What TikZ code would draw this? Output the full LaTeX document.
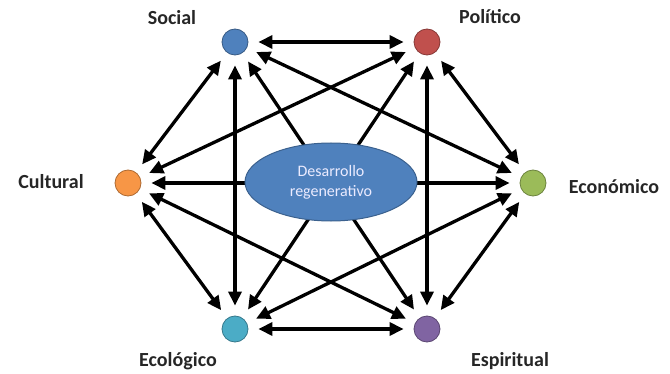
\documentclass[tikz,border=0pt]{standalone}
\usepackage{fontspec}
\setmainfont{Carlito}
\usetikzlibrary{arrows.meta,shapes.geometric}
\definecolor{socialc}{HTML}{4F81BD}
\definecolor{politicoc}{HTML}{C0504D}
\definecolor{culturalc}{HTML}{F79646}
\definecolor{economicoc}{HTML}{9BBB59}
\definecolor{ecologicoc}{HTML}{4BACC6}
\definecolor{espiritualc}{HTML}{8064A2}

\begin{document}
\begin{tikzpicture}[x=1pt,y=1pt,
   dim/.style={circle,draw=#1!70!black,fill=#1,line width=0.8pt,minimum size=26pt,inner sep=0pt},
   dimlabel/.style={font=\bfseries\fontsize{20}{22}\selectfont,text=black!85},
   link/.style={{Triangle[length=14pt,width=13pt]}-{Triangle[length=14pt,width=13pt]},
      line width=3.3pt,shorten <=10pt,shorten >=10pt}]
\useasboundingbox (0,0) rectangle (670,373);
% dimensiones
\node[dim=socialc] (soc) at (235,331) {};
\node[dim=politicoc] (pol) at (427,331) {};
\node[dim=culturalc] (cul) at (128,190) {};
\node[dim=economicoc] (eco) at (533,190) {};
\node[dim=ecologicoc] (ecl) at (235,44) {};
\node[dim=espiritualc] (esp) at (427,44) {};
\node[dimlabel] (socl) at (172,355) {Social};
\node[dimlabel] (poll) at (490,356) {Político};
\node[dimlabel] (cull) at (51,191) {Cultural};
\node[dimlabel] (ecol) at (614,186) {Económico};
\node[dimlabel] (ecll) at (178,12) {Ecológico};
\node[dimlabel] (espl) at (510,12) {Espiritual};
% relaciones
\foreach \a/\b in {soc/pol,soc/cul,soc/eco,soc/ecl,soc/esp,
                   pol/cul,pol/eco,pol/ecl,pol/esp,
                   cul/eco,cul/ecl,cul/esp,
                   eco/ecl,eco/esp,ecl/esp}
   \draw[link] (\a) -- (\b);
% centro
\node[ellipse,draw=socialc!75!black,fill=socialc,line width=1pt,
      minimum width=172pt,minimum height=78pt,align=center,
      text=blue!8!white,font=\fontsize{16}{20}\selectfont] (centro) at (331,191)
      {Desarrollo\\regenerativo};
\end{tikzpicture}
\end{document}
